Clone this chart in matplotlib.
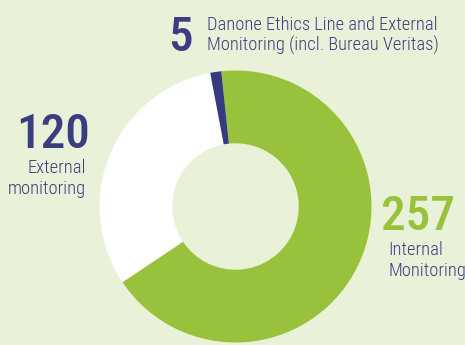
import matplotlib.pyplot as plt

# data
labels = ["Internal\nMonitoring", "External\nmonitoring",
          "Danone Ethics Line and External\nMonitoring (incl. Bureau Veritas)"]
values = [257, 120, 5]
colors = ["#98c23c", "#ffffff", "#363a7e"]

bg = "#e9f2d8"
navy = "#3a3e80"
W, H = 465, 345

fig = plt.figure(figsize=(W / 100, H / 100), dpi=100, facecolor=bg)

# donut: centre ~ (235, 206) px, outer radius ~136 px
cx, cy, R = 235.5, 206.5, 136
ax = fig.add_axes([(cx - R) / W, (H - cy - R) / H, 2 * R / W, 2 * R / H])
ax.pie(values, colors=colors, startangle=96, counterclock=False, radius=1,
       wedgeprops=dict(width=0.535, linewidth=0))
ax.set_xlim(-1, 1)
ax.set_ylim(-1, 1)
ax.set_facecolor("none")
ax.axis("off")

fam = ["Roboto Condensed", "DejaVu Sans"]
r = fig.canvas.get_renderer()

def px(x, y):
    return x / W, 1 - y / H

def fit(s, target, weight, base=20):
    # font size that makes s about target px wide
    t = fig.text(0, 0, s, family=fam, fontsize=base, weight=weight)
    w = t.get_window_extent(r).width
    t.remove()
    return base * target / w

num_size = fit(str(values[1]), 74, "medium")
cap_size = fit(labels[2].split("\n")[0], 230, "light")

# numbers
fig.text(*px(180, 51), str(values[2]), family=fam, fontsize=num_size, weight="medium",
         color=navy, ha="center", va="baseline")
fig.text(*px(53, 148), str(values[1]), family=fam, fontsize=num_size, weight="medium",
         color=navy, ha="center", va="baseline")
fig.text(*px(418, 230), str(values[0]), family=fam, fontsize=num_size, weight="medium",
         color=colors[0], ha="center", va="baseline")

# captions
spots = [((388, 255), "left"), ((86, 173), "right"), ((207, 30), "left")]
for lab, ((x, y), ha) in zip(labels, spots):
    for i, line in enumerate(lab.split("\n")):
        fig.text(*px(x, y + 21 * i), line, family=fam, fontsize=cap_size,
                 weight="light", color=navy, ha=ha, va="baseline")

fig.savefig("out.png", dpi=100, facecolor=bg)
